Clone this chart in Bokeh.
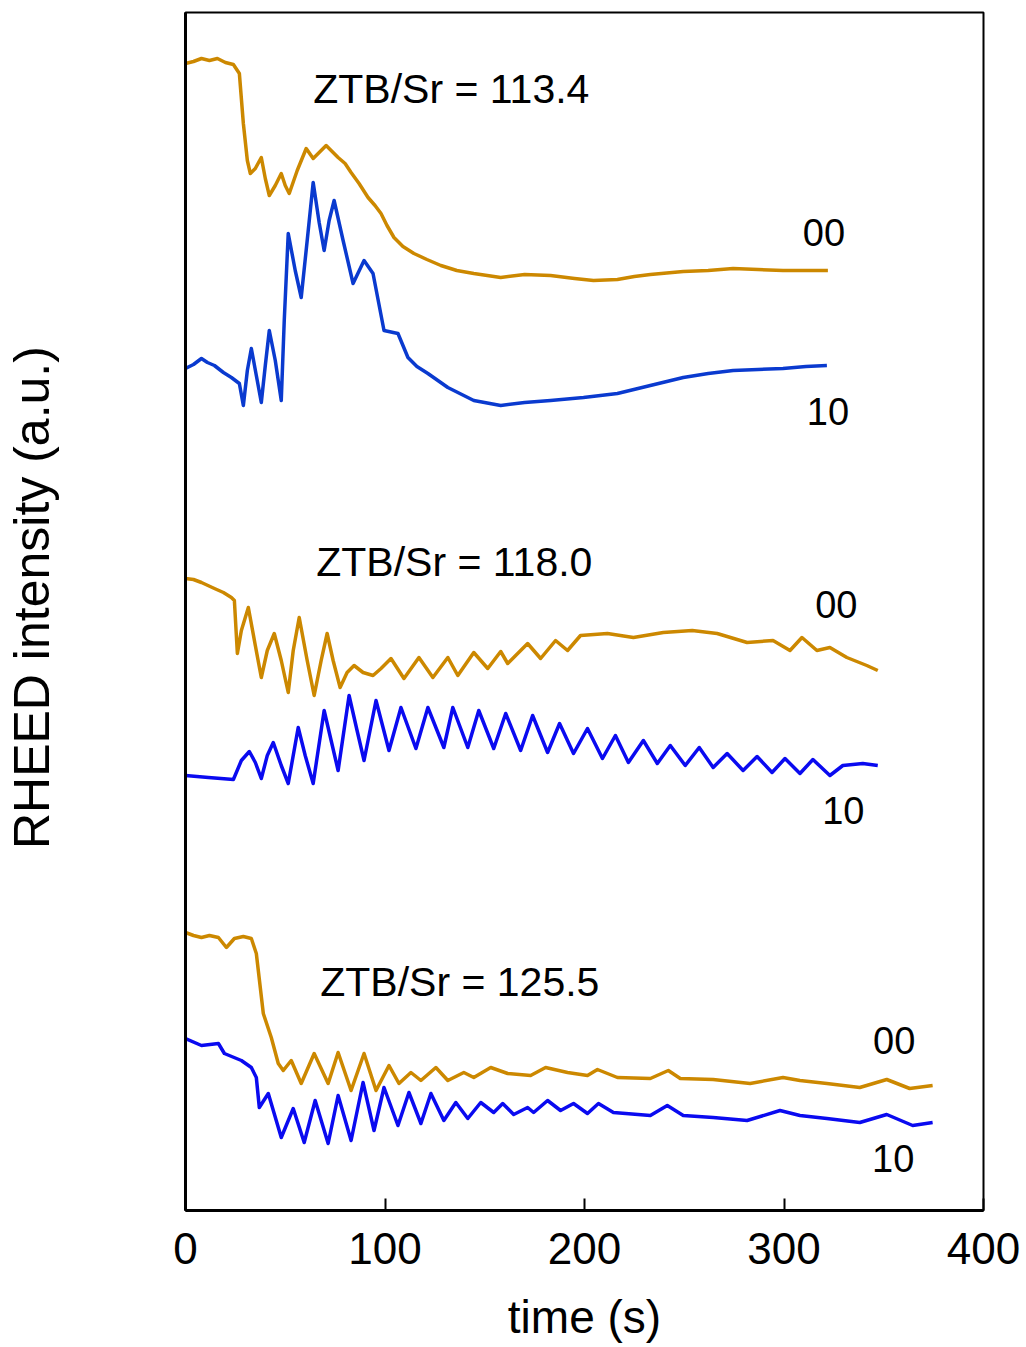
from bokeh.plotting import figure
from bokeh.models import FixedTicker, Range1d
from bokeh.core.properties import value
from bokeh.embed import file_html
from bokeh.resources import INLINE

# ---- data (time in s, intensity in arbitrary units) ----
t_a = [0, 4, 8, 12, 16, 20, 24, 27, 29, 31, 32.5, 35, 38, 40, 42, 45, 48, 50, 52, 56, 60.5, 64, 67, 70.5, 73, 76.5, 80, 83, 87, 91.5, 95, 98, 101, 104.5, 109, 114.5, 121, 128, 136, 144.5, 158, 170, 183, 195, 204.5, 216.5, 225, 233, 249.5, 262, 274.5, 287, 299.5, 311, 322]
i_a = [1147, 1149, 1152, 1150, 1152, 1148, 1146, 1137, 1087, 1050, 1037, 1042, 1053, 1032, 1015, 1025, 1037, 1025, 1017, 1040, 1062, 1052, 1058, 1065, 1060, 1053, 1047, 1038, 1027, 1013, 1005, 997, 985, 973, 964, 957, 951, 945, 940, 937, 933, 936, 935, 932, 930, 931, 934, 936, 939, 940, 942, 941, 940, 940, 940]

t_b = [0, 4, 8, 11, 14.5, 19, 23, 27, 29, 31, 33, 35.5, 38, 40, 42, 45, 48, 49.5, 51.5, 55, 58, 61, 64, 67, 69.5, 72, 74.5, 79, 84, 89.5, 94, 99.5, 106.5, 111.5, 116, 121.5, 131.5, 144.5, 158, 170, 183, 199.5, 216.5, 233, 249.5, 262, 274.5, 287, 299.5, 311, 321.5]
i_b = [842, 846, 852, 848, 845, 838, 833, 827, 805, 840, 862, 835, 808, 845, 880, 850, 810, 890, 977, 940, 913, 970, 1028, 988, 960, 990, 1010, 970, 927, 950, 937, 880, 877, 853, 844, 837, 823, 810, 805, 808, 810, 813, 817, 825, 833, 837, 840, 841, 842, 844, 845]

t_c = [0, 4, 8, 14.5, 19, 23, 24.5, 26, 28, 31.5, 35, 38, 41, 44.5, 48, 51.5, 54, 57, 61, 64.5, 68, 71, 74, 77.5, 81, 84.5, 89, 94, 98, 103, 109.5, 117, 124, 131.5, 136.5, 144.5, 151.5, 158, 161.5, 171.5, 178, 185.5, 191.5, 198, 211.5, 224.5, 239.5, 254, 266.5, 281.5, 294.5, 303, 309, 316.5, 323, 331.5, 341.5, 347]
i_c = [632, 631, 628, 622, 618, 613, 610, 557, 580, 603, 565, 533, 560, 577, 550, 518, 560, 593, 550, 515, 550, 577, 550, 523, 538, 545, 538, 535, 542, 552, 532, 553, 533, 553, 535, 558, 542, 559, 547, 567, 552, 570, 560, 575, 577, 573, 578, 580, 577, 568, 570, 560, 573, 560, 563, 553, 545, 540]

t_d = [0, 11.5, 24, 28, 32, 35, 38, 41, 44, 48, 51.5, 56.5, 60, 64, 69.5, 73, 76.5, 82, 86, 89.5, 95.5, 102, 108, 115.5, 121.5, 129.5, 134, 141.5, 147, 154.5, 160.5, 168, 174, 181.5, 187.5, 194.5, 201.5, 209, 215.5, 222, 229.5, 236.5, 243, 250.5, 257.5, 264.5, 271.5, 279.5, 286.5, 294, 300.5, 308, 314.5, 323, 329.5, 339.5, 347]
i_d = [435, 433, 431, 450, 459, 448, 432, 455, 468, 445, 427, 483, 455, 427, 500, 470, 440, 515, 480, 450, 510, 460, 503, 462, 503, 463, 503, 463, 500, 462, 497, 460, 495, 458, 487, 457, 482, 452, 475, 448, 470, 447, 465, 445, 463, 443, 457, 440, 454, 438, 452, 437, 451, 435, 445, 447, 445]

t_e = [0, 4, 8, 12, 16.5, 20.5, 24.5, 29, 33, 35.5, 39, 43, 46.5, 49, 53, 58, 64.5, 71.5, 76.5, 83, 89.5, 95.5, 102, 107, 113, 118, 125.5, 131.5, 139.5, 144.5, 153, 161.5, 173, 180.5, 191.5, 201.5, 206.5, 216.5, 233, 242, 248, 264.5, 283, 299.5, 308, 321.5, 338, 351.5, 363, 374.5]
i_e = [278, 275, 273, 275, 273, 263, 272, 274, 272, 257, 197, 173, 147, 140, 150, 127, 157, 127, 158, 120, 157, 120, 145, 127, 138, 130, 143, 130, 138, 133, 143, 137, 135, 143, 138, 135, 141, 133, 132, 140, 132, 131, 127, 133, 130, 127, 123, 131, 122, 125]

t_f = [0, 8, 16.5, 19.5, 28, 33, 35.5, 37, 41.5, 48, 54, 59.5, 65, 71.5, 76.5, 83, 89, 94.5, 99.5, 106.5, 112, 118, 123, 129.5, 135.5, 141.5, 148, 154.5, 159, 164.5, 171.5, 174.5, 181.5, 188, 194.5, 201.5, 207, 214.5, 233, 241.5, 249.5, 264.5, 281.5, 298, 308, 321.5, 338, 351.5, 364.5, 374.5]
i_f = [172, 165, 167, 157, 150, 143, 133, 103, 117, 73, 102, 68, 110, 67, 115, 70, 128, 80, 123, 85, 118, 87, 117, 90, 108, 92, 108, 98, 107, 96, 103, 98, 110, 100, 107, 97, 107, 98, 95, 105, 95, 93, 90, 100, 95, 92, 88, 96, 85, 88]

x_ticks = [0, 100, 200, 300, 400]

ratio_labels = ["ZTB/Sr = 113.4", "ZTB/Sr = 118.0", "ZTB/Sr = 125.5"]
ratio_x = [133.25, 134.75, 137.5]
ratio_y = [1122, 649, 229]

spot_labels = ["00", "10", "00", "10", "00", "10"]
spot_x = [320, 322, 326.25, 329.75, 355.25, 354.75]
spot_y = [978, 799, 606, 400, 170, 52]

ORANGE = "#CC8800"
BLUE1 = "#0A3ACF"
BLUE2 = "#0A0AF0"
FONT = "Liberation Sans"

p = figure(width=1026, height=1347, output_backend="svg", toolbar_location=None,
           x_range=Range1d(0, 400), y_range=Range1d(0, 1198),
           min_border_left=184, min_border_right=43, min_border_top=12, min_border_bottom=137)
p.grid.visible = False
p.background_fill_color = "white"
p.border_fill_color = "white"
p.outline_line_color = "black"
p.outline_line_width = 2

LW = 3.5
p.line(t_a, i_a, line_color=ORANGE, line_width=LW, line_join="round")
p.line(t_b, i_b, line_color=BLUE1, line_width=LW, line_join="round")
p.line(t_c, i_c, line_color=ORANGE, line_width=LW, line_join="round")
p.line(t_d, i_d, line_color=BLUE2, line_width=LW, line_join="round")
p.line(t_e, i_e, line_color=ORANGE, line_width=LW, line_join="round")
p.line(t_f, i_f, line_color=BLUE2, line_width=LW, line_join="round")

p.text(x=ratio_x, y=ratio_y, text=ratio_labels, text_align="center", text_baseline="middle",
       text_font=value(FONT), text_font_size="41px", text_color="black")
p.text(x=spot_x, y=spot_y, text=spot_labels, text_align="center", text_baseline="middle",
       text_font=value(FONT), text_font_size="38px", text_color="black")

xa = p.xaxis[0]
xa.ticker = FixedTicker(ticks=x_ticks)
xa.major_tick_in = 12
xa.major_tick_out = 0
xa.minor_tick_in = 0
xa.minor_tick_out = 0
xa.major_tick_line_width = 2
xa.major_tick_line_color = "black"
xa.axis_line_width = 3
xa.axis_line_color = "black"
xa.major_label_text_font = FONT
xa.major_label_text_font_size = "44px"
xa.major_label_text_color = "black"
xa.major_label_standoff = 22
xa.axis_label = "time (s)"
xa.axis_label_text_font = FONT
xa.axis_label_text_font_size = "46px"
xa.axis_label_text_font_style = "normal"
xa.axis_label_text_color = "black"
xa.axis_label_standoff = 24

ya = p.yaxis[0]
ya.ticker = FixedTicker(ticks=[])
ya.major_tick_in = 0
ya.major_tick_out = 0
ya.minor_tick_in = 0
ya.minor_tick_out = 0
ya.major_label_text_font_size = "0px"
ya.axis_line_width = 3
ya.axis_line_color = "black"
ya.axis_label = "\u00a0\u00a0RHEED intensity (a.u.)"
ya.axis_label_text_font = FONT
ya.axis_label_text_font_size = "50px"
ya.axis_label_text_font_style = "normal"
ya.axis_label_text_color = "black"
ya.axis_label_standoff = 126

open("out.html", "w").write(file_html(p, INLINE))
